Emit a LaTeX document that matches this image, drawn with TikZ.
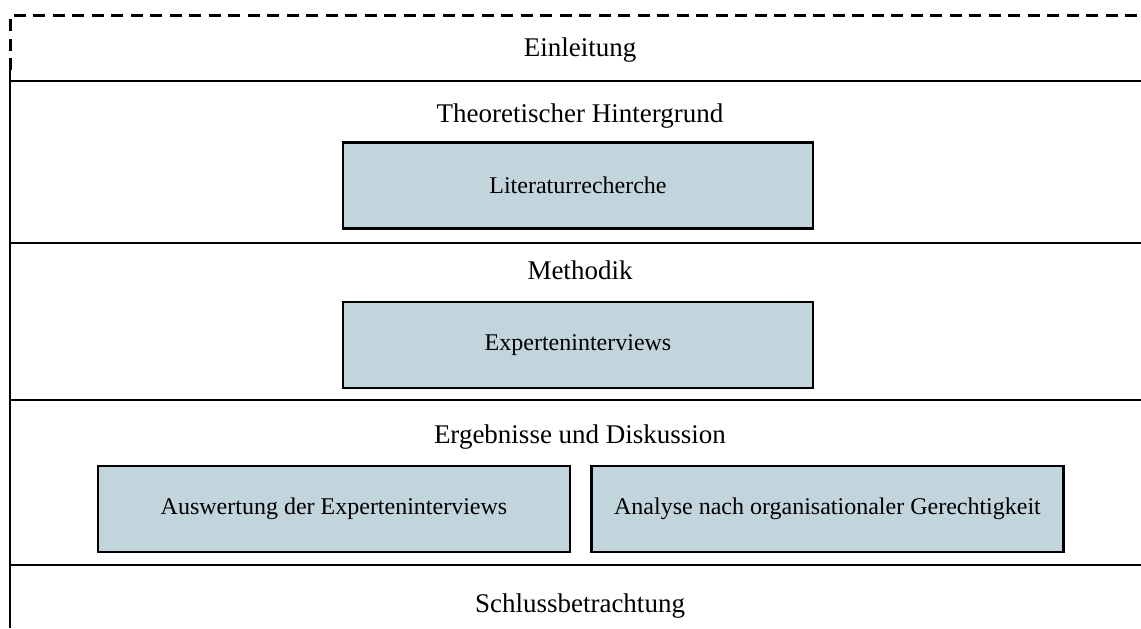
\documentclass[tikz,border=0pt]{standalone}
\usepackage{fontspec}
\setmainfont{Liberation Serif}
\definecolor{boxfill}{HTML}{C2D5DC}
\usetikzlibrary{positioning}
\tikzset{
  parttitle/.style={font=\fontsize{13.5}{16}\selectfont,anchor=base,inner sep=0pt},
  task/.style={draw=black,line width=1.4pt,fill=boxfill,minimum height=43pt,
               inner sep=0pt,font=\fontsize{12}{14}\selectfont},
  sepline/.style={line width=1.3pt},
  openedge/.style={line width=1.5pt,dash pattern=on 6pt off 3.75pt}
}
\begin{document}
\begin{tikzpicture}[x=0.5pt,y=-0.5pt]
    \useasboundingbox (0,0) rectangle (1141,628);
    % frame, open at the top
    \coordinate (tl) at (10,15);
    \coordinate (tr) at (1141,15);
    \coordinate (dl) at (10,70);
    \coordinate (bl) at (10,628);
    \draw[openedge] (dl) -- (tl) -- (tr);
    \draw[sepline] (dl) -- (bl);
    \foreach \y in {81,243,400,565} \draw[sepline] (10,\y) -- (1141,\y);
    % sections
    \node[parttitle] (einl) at (580,56) {Einleitung};
    \node[parttitle] (theo) at (580,122) {Theoretischer Hintergrund};
    \node[task,minimum width=235pt] (lit) at (578,185.5) {Literaturrecherche};
    \node[parttitle] (meth) at (580,279) {Methodik};
    \node[task,minimum width=235pt] (expi) at (578,345) {Experteninterviews};
    \node[parttitle] (erg) at (580,443) {Ergebnisse und Diskussion};
    \node[task,minimum width=236pt] (ausw) at (334,509) {Auswertung der Experteninterviews};
    \node[task,minimum width=236pt] (anal) at (827.5,509) {Analyse nach organisationaler Gerechtigkeit};
    \node[parttitle] (schl) at (580,612) {Schlussbetrachtung};
  \end{tikzpicture}
\end{document}
